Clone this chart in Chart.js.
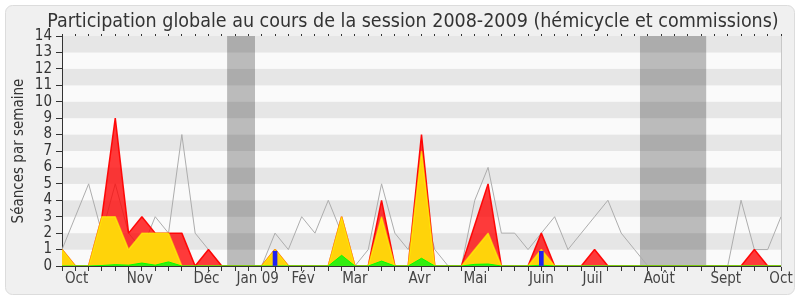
<!DOCTYPE html>
<html><head><meta charset="utf-8">
<script src="https://cdn.jsdelivr.net/npm/chart.js@4/dist/chart.umd.min.js"></script>
<style>html,body{margin:0;padding:0;background:#fff}canvas{display:block}</style>
</head><body>
<canvas id="c" width="800" height="300" style="width:800px;height:300px"></canvas>
<script>
const titleText = 'Participation globale au cours de la session 2008-2009 (hémicycle et commissions)';
const yAxisTitle = 'Séances par semaine';
const weekIndex = [0,1,2,3,4,5,6,7,8,9,10,11,12,13,14,15,16,17,18,19,20,21,22,23,24,25,26,27,28,29,30,31,32,33,34,35,36,37,38,39,40,41,42,43,44,45,46,47,48,49,50,51,52,53,54];
const presenceTotal = [1,0,0,3,9,2,3,2,2,2,0,1,0,0,0,0,1,0,0,0,0,3,0,0,4,0,0,8,0,0,0,2.5,5,0,0,0,2,0,0,0,1,0,0,0,0,0,0,0,0,0,0,0,1,0,0];
const presenceHemicycle = [1,0,0,3,3,1,2,2,2,0,0,0,0,0,0,0,1,0,0,0,0,3,0,0,3,0,0,7,0,0,0,1,2,0,0,0,1,0,0,0,0,0,0,0,0,0,0,0,0,0,0,0,0,0,0];
const interventions = [0,0,0,0.03,0.08,0.05,0.18,0.05,0.25,0,0,0,0,0,0,0,0,0,0,0,0,0.65,0,0,0.3,0,0,0.47,0,0,0,0.1,0.12,0,0,0,0.05,0,0,0,0,0,0,0,0,0,0,0,0,0,0,0,0,0,0];
const questions = [0,0,0,0,0,0,0,0,0,0,0,0,0,0,0,0,0.9,0,0,0,0,0,0,0,0,0,0,0,0,0,0,0,0,0,0,0,0.9,0,0,0,0,0,0,0,0,0,0,0,0,0,0,0,0,0,0];
const median = [1,3,5,2,5,2,1,3,2,8,2,1,0,0,0,0,2,1,3,2,4,2,0,1,5,2,1,4,1,0,0,4,6,2,2,1,2,3,1,2,3,4,2,1,0,0,0,0,0,0,0,4,1,1,3];
const vacStart = [12.4, 43.4];
const vacEnd = [14.5, 48.4];
const monthLabels = ['Oct','Nov','Déc','Jan 09','Fév','Mar','Avr','Mai','Juin','Juil','Août','Sept','Oct'];
const monthPos = [1.1, 5.85, 10.85, 14.7, 18.1, 22, 26.85, 31.05, 36, 39.85, 44.85, 49.85, 54];
const yTicks = [0,1,2,3,4,5,6,7,8,9,10,11,12,13,14];

const FONT = "'DejaVu Sans Condensed', 'DejaVu Sans', sans-serif";
const pts = arr => weekIndex.map((w, i) => ({x: w, y: arr[i]}));

const bgPlugin = {
  id: 'bg',
  beforeDraw(chart) {
    const ctx = chart.ctx;
    ctx.save();
    ctx.fillStyle = '#ffffff';
    ctx.fillRect(0, 0, chart.width, chart.height);
    ctx.beginPath();
    ctx.roundRect(5.5, 5.5, 789, 289, 7);
    ctx.fillStyle = '#f0f0f0';
    ctx.fill();
    ctx.strokeStyle = '#dcdcdc';
    ctx.lineWidth = 1;
    ctx.stroke();
    const a = chart.chartArea, y = chart.scales.y;
    for (let n = 0; n < yTicks.length - 1; n++) {
      const top = y.getPixelForValue(yTicks[n + 1]);
      const bot = y.getPixelForValue(yTicks[n]);
      ctx.fillStyle = (n % 2 === 1) ? '#e6e6e6' : '#fafafa';
      ctx.fillRect(a.left, top, a.right - a.left, bot - top);
    }
    ctx.fillStyle = '#333333';
    ctx.font = '19.5px ' + FONT;
    ctx.textAlign = 'center';
    ctx.textBaseline = 'alphabetic';
    ctx.fillText(titleText, 413, 27);
    ctx.restore();
  }
};

const datasets = [];
vacStart.forEach((s, k) => {
  datasets.push({type: 'line', data: [{x: s, y: 14}, {x: vacEnd[k], y: 14}], fill: 'origin',
    backgroundColor: 'rgba(0,0,0,0.25)', borderWidth: 0, pointRadius: 0, order: 10});
});
datasets.push({type: 'line', data: pts(median), borderColor: '#adadad', borderWidth: 1, borderJoinStyle: 'bevel', pointRadius: 0, fill: false, tension: 0, order: 9});
datasets.push({type: 'line', data: pts(presenceTotal), borderColor: 'rgba(255,0,0,0.95)', backgroundColor: 'rgba(255,0,0,0.77)', borderWidth: 1.5, borderJoinStyle: 'bevel', pointRadius: 0, fill: 'origin', tension: 0, order: 8});
datasets.push({type: 'line', data: pts(presenceHemicycle), borderColor: 'rgba(255,255,0,0.6)', backgroundColor: '#ffd30a', borderWidth: 1.5, borderJoinStyle: 'bevel', pointRadius: 0, fill: 'origin', tension: 0, order: 7});
datasets.push({type: 'line', data: pts(interventions), borderColor: '#00ff00', backgroundColor: '#33ee11', borderWidth: 1, borderJoinStyle: 'bevel', pointRadius: 0, fill: 'origin', tension: 0, order: 6});
datasets.push({type: 'bar', data: weekIndex.map((w, i) => ({x: w, y: questions[i] || null})), backgroundColor: '#2020f0', barThickness: 4, order: 5});

new Chart(document.getElementById('c'), {
  data: {datasets},
  options: {
    responsive: false, animation: false, devicePixelRatio: 1,
    layout: {padding: {left: 0, right: 19, top: 32, bottom: 0}},
    plugins: {legend: {display: false}, tooltip: {enabled: false}, title: {display: false}},
    scales: {
      x: {
        type: 'linear', position: 'bottom', min: 0, max: 54, offset: false,
        afterBuildTicks(scale) {
          const vals = weekIndex.slice();
          monthPos.forEach(p => { if (!Number.isInteger(p)) vals.push(p); });
          vals.sort((a, b) => a - b);
          scale.ticks = vals.map(v => ({value: v}));
        },
        afterFit(scale) { scale.height = 34; },
        ticks: {
          autoSkip: false, maxRotation: 0, minRotation: 0, padding: -1,
          color: '#444444', font: {family: FONT, size: 15},
          callback(value) {
            const k = monthPos.findIndex(p => Math.abs(p - value) < 1e-6);
            return k >= 0 ? monthLabels[k] : '';
          }
        },
        grid: {drawOnChartArea: false, tickLength: 5, offset: false,
          tickColor: ctx => (ctx.tick && Number.isInteger(ctx.tick.value)) ? '#333333' : 'rgba(0,0,0,0)'},
        border: {color: '#333333', width: 1}
      },
      xTop: {
        type: 'linear', position: 'top', min: 0, max: 54, offset: false,
        afterBuildTicks(scale) { scale.ticks = weekIndex.map(v => ({value: v})); },
        afterFit(scale) { scale.height = 4; },
        ticks: {display: false, autoSkip: false},
        grid: {drawOnChartArea: false, tickLength: 2, tickColor: '#333333', offset: false},
        border: {display: false}
      },
      y: {
        type: 'linear', position: 'left', min: 0, max: 14,
        afterBuildTicks(scale) { scale.ticks = yTicks.map(v => ({value: v})); },
        afterFit(scale) { scale.width = 62; },
        ticks: {color: '#333333', font: {family: FONT, size: 15}, padding: 4, autoSkip: false},
        grid: {drawOnChartArea: false, tickLength: 6, tickColor: '#333333'},
        border: {color: '#333333', width: 1},
        title: {display: true, text: yAxisTitle, color: '#333333', font: {family: FONT, size: 15}, padding: {top: 10, bottom: 0}}
      },
      yRight: {
        type: 'linear', position: 'right', min: 0, max: 14,
        afterFit(scale) { scale.width = 0; },
        ticks: {display: false},
        grid: {drawOnChartArea: false, drawTicks: false},
        border: {color: '#c8c8c8', width: 1}
      }
    }
  },
  plugins: [bgPlugin]
});
</script>
</body></html>
